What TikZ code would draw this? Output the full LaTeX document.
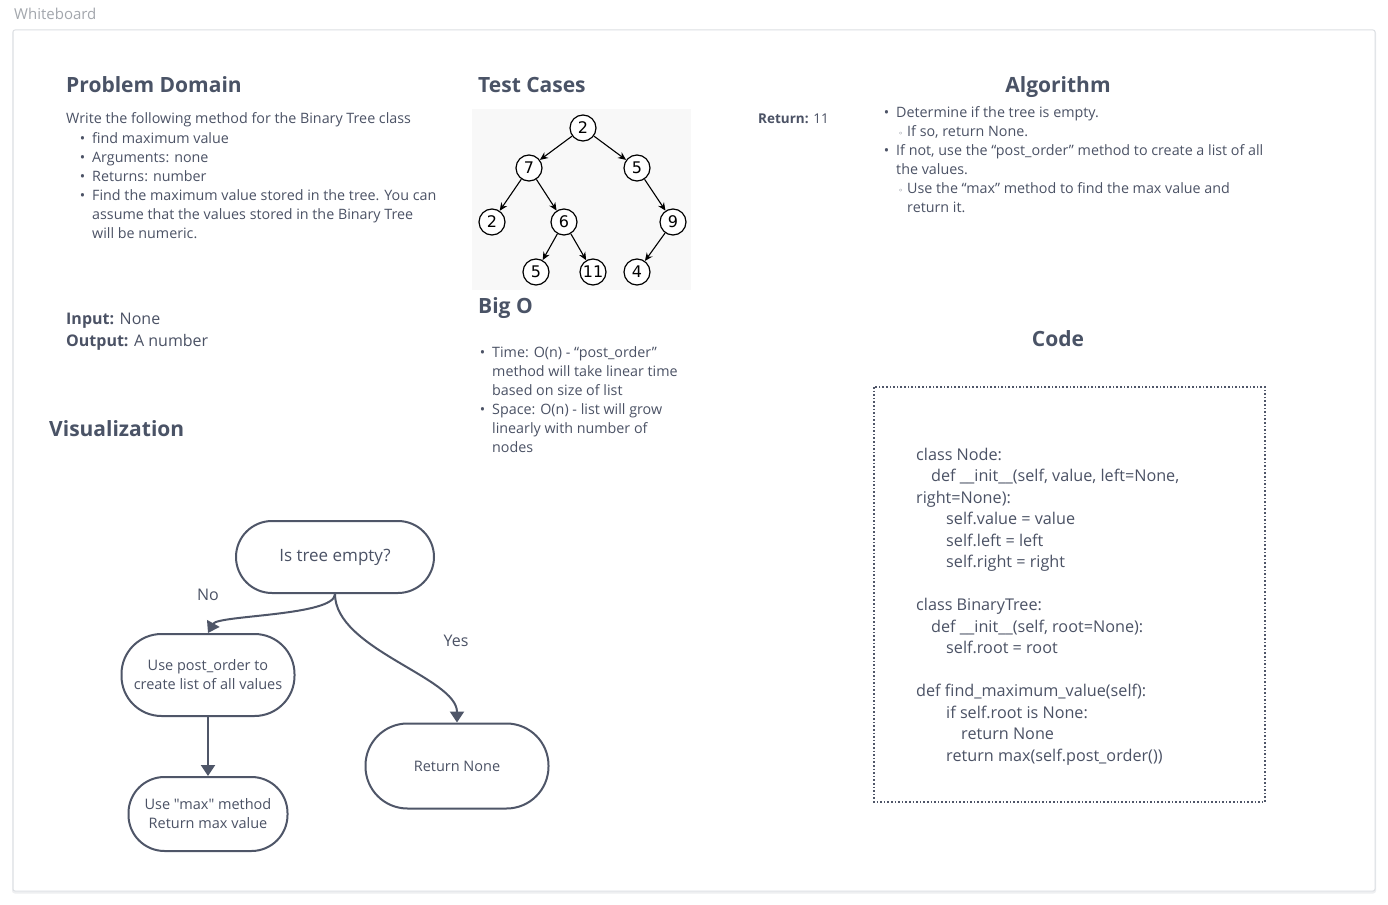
\documentclass[tikz,border=0pt]{standalone}
\usepackage{fontspec}
\setmainfont{Open Sans}[Ligatures=TeXOff]
\newfontfamily\symfont{DejaVu Sans}
\usetikzlibrary{arrows.meta,positioning,shapes.geometric}
\definecolor{ink}{HTML}{4B5265}
\definecolor{head}{HTML}{4A5366}
\definecolor{edge}{HTML}{4F5668}
\definecolor{frame}{HTML}{DCDFE3}
\definecolor{shadowc}{HTML}{EEEFF1}
\definecolor{faint}{HTML}{A3A7AD}
\definecolor{imgbg}{HTML}{F8F8F8}
\newcommand{\bul}{\llap{\textbullet\hspace{7pt}}}
\newcommand{\subbul}{\llap{{\symfont\fontsize{8}{8}\selectfont ◦}\hspace{4pt}}}
\tikzset{
  heading/.style={font=\fontsize{21}{25}\selectfont\bfseries, text=head, inner sep=0pt, anchor=base west},
  body/.style={font=\fontsize{14.3}{19}\selectfont, text=ink, align=left, inner sep=0pt, anchor=base west},
  io/.style={body, font=\fontsize{16}{22}\selectfont},
  code/.style={body, font=\fontsize{16.2}{21.5}\selectfont},
  tnode/.style={circle, draw=black, line width=1.2pt, fill=white, minimum size=26pt, inner sep=0pt,
                font=\symfont\fontsize{16}{16}\selectfont},
  tarr/.style={-{Stealth[length=8pt,width=7pt]}, line width=1.1pt, draw=black},
  flow/.style={draw=edge, line width=2pt, fill=white, align=center, text=ink, inner sep=0pt,
               font=\fontsize{14.5}{19}\selectfont},
  farr/.style={-{Triangle[length=11pt,width=14pt]}, line width=2pt, draw=edge},
  flbl/.style={font=\fontsize{16}{19}\selectfont, text=ink, inner sep=0pt},
}
\begin{document}
\begin{tikzpicture}[x=1pt,y=-1pt]
  \useasboundingbox (0,0) rectangle (1388,904);
  \fill[white] (0,0) rectangle (1388,904);
  \node[font=\fontsize{15}{18}\selectfont, text=faint, inner sep=0pt, anchor=base west] (wb) at (14,20) {Whiteboard};
  \draw[draw=shadowc, line width=2pt, rounded corners=2pt] (13,31.5) rectangle (1375,892.5);
  \draw[draw=frame, fill=white, line width=1pt, rounded corners=2pt] (13,30) rectangle (1375,891);

  % problem domain (multi-line texts sit on their last baseline)
  \node[heading] (pdh) at (66,93) {Problem Domain};
  \node[body] (pdi) at (66,124) {Write the following method for the Binary Tree class};
  \node[body] (pdl) at (92,238) {\bul find maximum value\\
    \bul Arguments: none\\
    \bul Returns: number\\
    \bul Find the maximum value stored in the tree. You can\\
    assume that the values stored in the Binary Tree\\
    will be numeric.};
  \node[io] (inp) at (66,346) {\textbf{Input:} None\\ \textbf{Output:} A number};
  \node[heading] (vish) at (49,436) {Visualization};

  % test cases
  \node[heading] (tch) at (478,93) {Test Cases};
  \fill[imgbg] (472,109) rectangle (691,290);
  \node[tnode] (t2)  at (583,128) {2};
  \node[tnode] (t7)  at (529,168) {7};
  \node[tnode] (t5)  at (637,168) {5};
  \node[tnode] (t2b) at (492,222) {2};
  \node[tnode] (t6)  at (564,222) {6};
  \node[tnode] (t9)  at (673,222) {9};
  \node[tnode] (t5b) at (536,272) {5};
  \node[tnode] (t11) at (593,272) {11};
  \node[tnode] (t4)  at (637,272) {4};
  \foreach \a/\b in {t2/t7,t2/t5,t7/t2b,t7/t6,t5/t9,t6/t5b,t6/t11,t9/t4}
    \draw[tarr] (\a) -- (\b);
  \node[body, font=\fontsize{13.5}{19}\selectfont] (ret) at (758,124) {\textbf{Return:} 11};

  % big o
  \node[heading] (boh) at (478,313) {Big O};
  \node[body] (bol) at (492,452) {\bul Time: O(n) - “post\_order”\\
    method will take linear time\\
    based on size of list\\
    \bul Space: O(n) - list will grow\\
    linearly with number of\\
    nodes};

  % algorithm
  \node[heading, anchor=base] (alh) at (1058,93) {Algorithm};
  \node[body] (all) at (896,212) {\bul Determine if the tree is empty.\\
    \hspace*{11pt}\subbul If so, return None.\\
    \bul If not, use the “post\_order” method to create a list of all\\
    the values.\\
    \hspace*{11pt}\subbul Use the “max” method to find the max value and\\
    \hspace*{11pt}return it.};

  % code
  \node[heading, anchor=base] (cdh) at (1058,346) {Code};
  \draw[edge, line width=1.6pt, dotted] (874,387) rectangle (1265,802);
  \node[code] (src) at (916,761) {class Node:\\
    \hspace*{15pt}def \_\_init\_\_(self, value, left=None,\\
    right=None):\\
    \hspace*{30pt}self.value = value\\
    \hspace*{30pt}self.left = left\\
    \hspace*{30pt}self.right = right\\[21.5pt]
    class BinaryTree:\\
    \hspace*{15pt}def \_\_init\_\_(self, root=None):\\
    \hspace*{30pt}self.root = root\\[21.5pt]
    def find\_maximum\_value(self):\\
    \hspace*{30pt}if self.root is None:\\
    \hspace*{45pt}return None\\
    \hspace*{30pt}return max(self.post\_order())};

  % flowchart
  \node[flow, rounded corners=36pt, minimum width=198pt, minimum height=72pt, font=\fontsize{17}{19}\selectfont] (empty) at (335,557) {Is tree empty?};
  \node[flow, rounded corners=40pt, minimum width=173pt, minimum height=82pt] (post) at (208,675) {Use post\_order to\\create list of all values};
  \node[flow, rounded corners=36pt, minimum width=159pt, minimum height=74pt] (maxv) at (208,814) {Use "max" method\\Return max value};
  \node[flow, rounded corners=42pt, minimum width=183pt, minimum height=85pt] (none) at (457,766) {Return None};
  \draw[farr] (empty.south) .. controls ++(0,22) and ++(10,-18) .. (post.north);
  \draw[farr] (empty.south) .. controls ++(0,55) and ++(0,-45) .. (none.north);
  \draw[farr] (post) -- (maxv);
  \node[flbl] (no) at (208,595) {No};
  \node[flbl] (yes) at (456,641) {Yes};
\end{tikzpicture}
\end{document}
